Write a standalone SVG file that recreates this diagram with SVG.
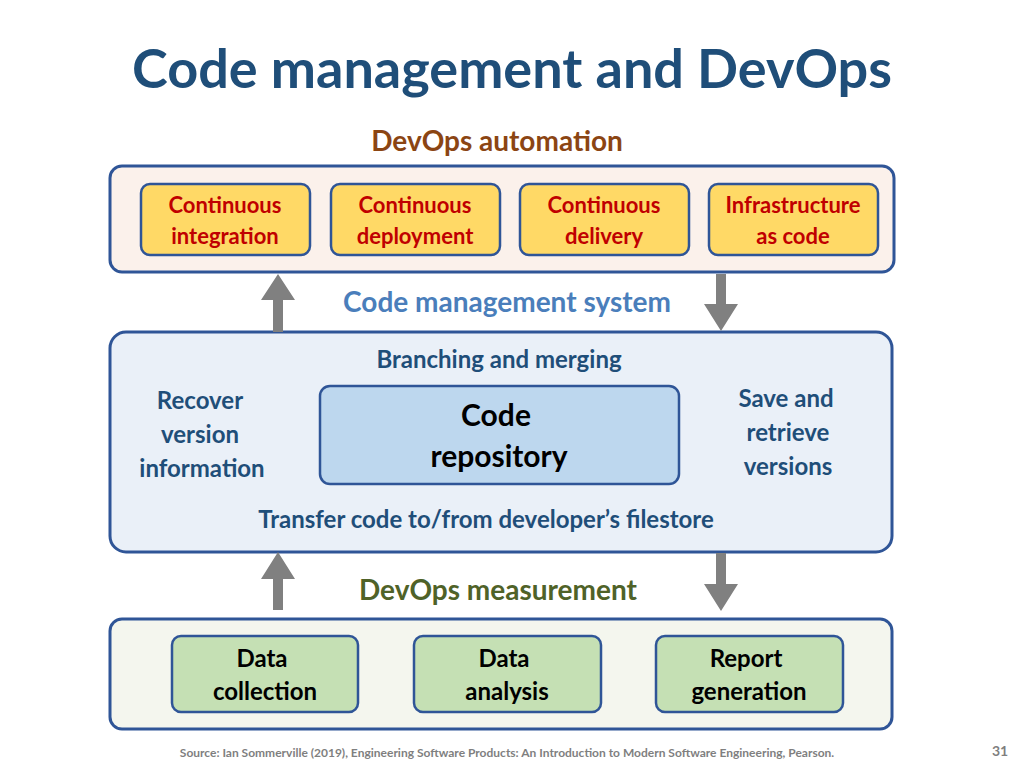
<svg xmlns="http://www.w3.org/2000/svg" width="1024" height="768" viewBox="0 0 1024 768">
<style>
text{font-family:Lato,"Open Sans",sans-serif;font-weight:bold;text-anchor:middle}
.panel{stroke:#2F5597;stroke-width:3}
.y{fill:#FFD966;stroke:#2F5597;stroke-width:2.5}
.yt{fill:#C00000;font-size:22px}
.g{fill:#C5E0B4;stroke:#2F5597;stroke-width:2.5}
.gt{fill:#000;font-size:24px}
.dk{fill:#1F4E79;font-size:24px}
.arr{fill:#808080}
</style>
<rect width="1024" height="768" fill="#fff"/>
<text x="512" y="88" font-size="54" fill="#1F4E79">Code management and DevOps</text>
<text x="497" y="151" font-size="28" fill="#8B4513">DevOps automation</text>
<g id="automation"><rect class="panel" x="110" y="166" width="784" height="106" rx="12" fill="#FBF1EB"/></g>
<g id="ci"><rect class="y" x="141" y="184" width="169" height="71" rx="9"/><text class="yt" x="225" y="213">Continuous</text><text class="yt" x="225" y="244">integration</text></g>
<g id="cdep"><rect class="y" x="331" y="184" width="169" height="71" rx="9"/><text class="yt" x="415" y="213">Continuous</text><text class="yt" x="415" y="244">deployment</text></g>
<g id="cdel"><rect class="y" x="520" y="184" width="169" height="71" rx="9"/><text class="yt" x="604" y="213">Continuous</text><text class="yt" x="604" y="244">delivery</text></g>
<g id="iac"><rect class="y" x="709" y="184" width="169" height="71" rx="9"/><text class="yt" x="793" y="213">Infrastructure</text><text class="yt" x="793" y="244">as code</text></g>
<text x="507" y="312" font-size="28" fill="#4A7EBB">Code management system</text>
<g id="cms"><rect class="panel" x="110" y="332" width="782" height="220" rx="16" fill="#EAF0F8"/>
<text class="dk" x="499" y="368">Branching and merging</text>
<text class="dk" x="200" y="409">Recover</text><text class="dk" x="200" y="443">version</text><text class="dk" x="202" y="477">information</text>
<text class="dk" x="786" y="407">Save and</text><text class="dk" x="788" y="441">retrieve</text><text class="dk" x="788" y="475">versions</text>
<text class="dk" x="486" y="528">Transfer code to/from developer’s filestore</text></g>
<g id="repo"><rect x="320" y="386" width="359" height="98" rx="10" fill="#BDD7EE" stroke="#2F5597" stroke-width="2.5"/><text x="496" y="426" font-size="30" fill="#000">Code</text><text x="499" y="467" font-size="30" fill="#000">repository</text></g>
<text x="498" y="600" font-size="28" fill="#4F6228">DevOps measurement</text>
<g id="measurement"><rect class="panel" x="110" y="619" width="782" height="110" rx="12" fill="#F4F6EE"/></g>
<g id="dc"><rect class="g" x="172" y="636" width="186" height="76" rx="9"/><text class="gt" x="262" y="667">Data</text><text class="gt" x="265" y="700">collection</text></g>
<g id="da"><rect class="g" x="414" y="636" width="187" height="76" rx="9"/><text class="gt" x="504" y="667">Data</text><text class="gt" x="507" y="700">analysis</text></g>
<g id="rg"><rect class="g" x="656" y="636" width="187" height="76" rx="9"/><text class="gt" x="746" y="667">Report</text><text class="gt" x="749" y="700">generation</text></g>
<g id="connectors">
<polygon class="arr" points="273,332 283,332 283,300 295,300 278,274 261,300 273,300"/>
<polygon class="arr" points="716,274 726,274 726,304 738,304 721,331 704,304 716,304"/>
<polygon class="arr" points="273,610 283,610 283,579 295,579 278,552 261,579 273,579"/>
<polygon class="arr" points="716,553 726,553 726,584 738,584 721,611 704,584 716,584"/>
</g>
<text x="507" y="757" font-size="12" font-weight="normal" fill="#7F7F7F" font-family="'Open Sans',sans-serif">Source: Ian Sommerville (2019), Engineering Software Products:  An Introduction to Modern Software Engineering, Pearson.</text>
<text x="1000" y="756" font-size="14" font-weight="normal" fill="#7F7F7F">31</text>
</svg>
